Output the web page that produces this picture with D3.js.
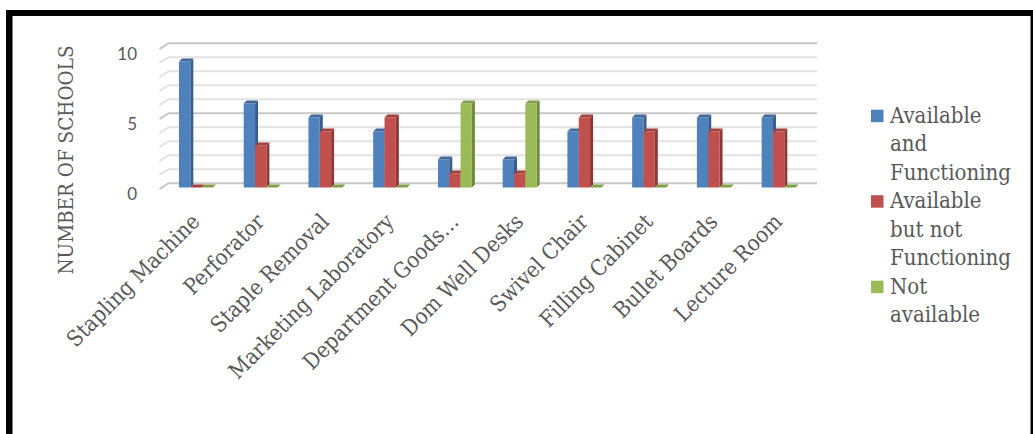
<!DOCTYPE html>
<html>
<head>
<meta charset="utf-8">
<script src="https://cdn.jsdelivr.net/npm/d3@7"></script>
<style>
  html, body { margin: 0; padding: 0; background: #fff; }
  svg { display: block; }
</style>
</head>
<body>
<svg id="chart" width="1033" height="434"></svg>
<script>
// Equipment items surveyed
const categories = [
  "Stapling Machine", "Perforator", "Staple Removal", "Marketing Laboratory",
  "Department Goods…", "Dom Well Desks", "Swivel Chair", "Filling Cabinet",
  "Bullet Boards", "Lecture Room"
];
// Number of schools per status
const availableFunctioning    = [9, 6, 5, 4, 2, 2, 4, 5, 5, 5];
const availableNotFunctioning = [0, 3, 4, 5, 1, 1, 5, 4, 4, 4];
const notAvailable            = [0, 0, 0, 0, 6, 6, 0, 0, 0, 0];
const seriesNames = ["Available and Functioning", "Available but not Functioning", "Not available"];
const legendLines = [["Available", "and", "Functioning"], ["Available", "but not", "Functioning"], ["Not", "available"]];
const yTicks = [0, 5, 10];
const yTitle = "NUMBER OF SCHOOLS";

const seriesValues = [availableFunctioning, availableNotFunctioning, notAvailable];
const fills  = ["#4F81BD", "#C0504D", "#9BBB59"];
const sides  = ["#385D8A", "#8C3836", "#71893F"];
const tops   = ["#41699C", "#A2403D", "#80A048"];

const serif = "'DejaVu Serif Condensed', 'DejaVu Serif', serif";
const textColor = "#595959";

const svg = d3.select("#chart");

// frame
svg.append("rect").attr("x", 6).attr("y", 10).attr("width", 1027).attr("height", 6).attr("fill", "#000");
svg.append("rect").attr("x", 6).attr("y", 10).attr("width", 6.5).attr("height", 424).attr("fill", "#000");
svg.append("rect").attr("x", 1030.5).attr("y", 10).attr("width", 2.5).attr("height", 424).attr("fill", "#000");

// scales (front plane of the bars)
const x = d3.scaleBand().domain(categories).range([163.6, 811]).paddingInner(0.475).paddingOuter(0.2375);
const xs = d3.scaleBand().domain(d3.range(3)).range([0, x.bandwidth()]);
const y = d3.scaleLinear().domain([0, 10]).range([187.5, 47.5]);

// depth of walls and bars
const wallDx = 9, wallDy = 6;
const backShift = 4.3;
const barDx = 3, barDy = 3;
const wallLeft = 159.5, wallRight = 817;

// gridlines on back wall and left side wall
const gridVals = d3.range(0, 11);
const grid = svg.append("g");
gridVals.forEach(v => {
  const yb = y(v) - backShift;
  const major = v % 5 === 0;
  grid.append("path")
    .attr("d", `M${wallLeft},${yb + wallDy}L${wallLeft + wallDx},${yb}L${wallRight},${yb}`)
    .attr("fill", "none")
    .attr("stroke", major ? "#C8C8C8" : "#E2E2E2")
    .attr("stroke-width", 2);
});

// y tick labels
svg.append("g").selectAll("text").data(yTicks).join("text")
  .attr("x", 137).attr("y", d => y(d) + 12)
  .attr("text-anchor", "end")
  .attr("font-family", "Lato, 'Open Sans', sans-serif")
  .attr("font-size", 17)
  .attr("fill", textColor)
  .text(d => d);

// y title
svg.append("text")
  .attr("transform", `translate(73,160) rotate(-90)`)
  .attr("text-anchor", "middle")
  .attr("font-family", serif)
  .attr("font-size", 20.5)
  .attr("fill", textColor)
  .text(yTitle);

// bars
const barsG = svg.append("g");
categories.forEach((c, i) => {
  seriesValues.forEach((vals, s) => {
    const v = vals[i];
    const x0 = x(c) + xs(s);
    const w = xs.bandwidth();
    const yt = y(v), yb = y(0);
    const g = barsG.append("g");
    g.append("path")
      .attr("d", `M${x0 + w},${yt}L${x0 + w + barDx},${yt - barDy}L${x0 + w + barDx},${yb - barDy}L${x0 + w},${yb}Z`)
      .attr("fill", sides[s]);
    g.append("rect")
      .attr("x", x0).attr("y", yt).attr("width", w).attr("height", Math.max(0, yb - yt))
      .attr("fill", fills[s]);
    g.append("path")
      .attr("d", `M${x0},${yt}L${x0 + barDx},${yt - barDy}L${x0 + w + barDx},${yt - barDy}L${x0 + w},${yt}Z`)
      .attr("fill", tops[s]);
  });
});

// category labels
svg.append("g").selectAll("text").data(categories).join("text")
  .attr("transform", d => `translate(${x(d) + x.bandwidth() / 2 + 5},${223}) rotate(-45)`)
  .attr("text-anchor", "end")
  .attr("font-family", serif)
  .attr("font-size", 22)
  .attr("fill", textColor)
  .text(d => d);

// legend
const legend = svg.append("g");
const lineH = 28.5;
let yy = 122.7;
legendLines.forEach((lines, s) => {
  legend.append("rect").attr("x", 871).attr("y", yy - 13).attr("width", 12.5).attr("height", 12.5).attr("fill", fills[s]);
  lines.forEach((ln, k) => {
    legend.append("text")
      .attr("x", 890).attr("y", yy + k * lineH)
      .attr("font-family", serif)
      .attr("font-size", 22)
      .attr("fill", textColor)
      .text(ln);
  });
  yy += lines.length * lineH;
});
</script>
</body>
</html>
